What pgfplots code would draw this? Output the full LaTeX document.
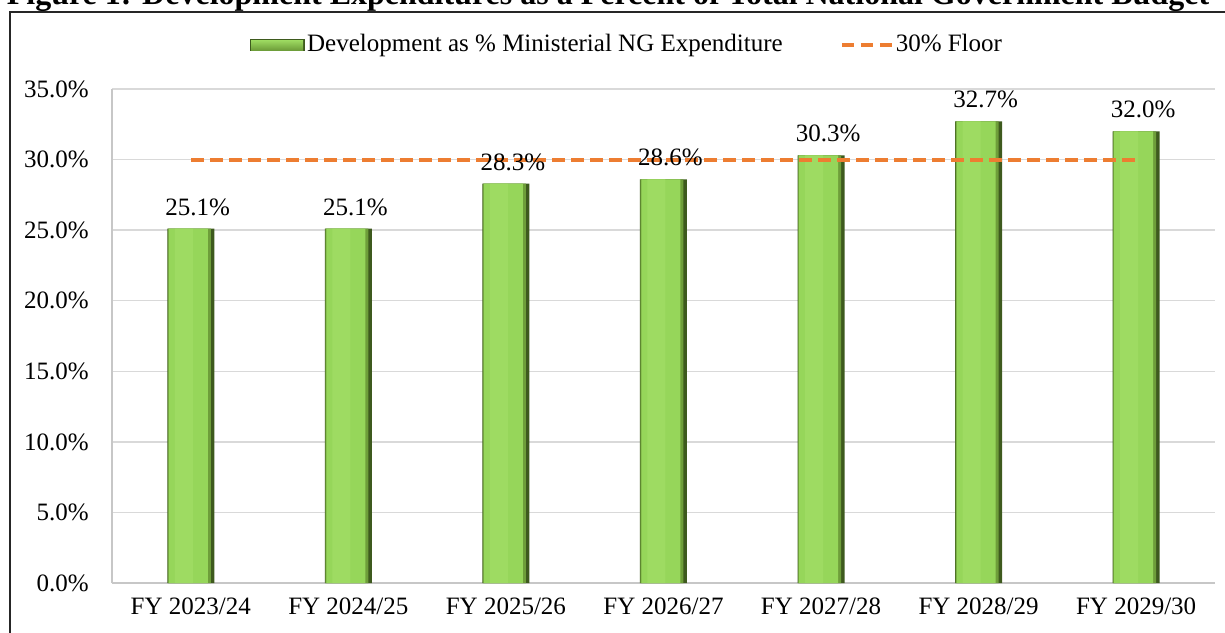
\documentclass[border=0pt]{standalone}
\usepackage{pgfplots}
\pgfplotsset{compat=1.18}
\usepackage{fontspec}
\setmainfont{Liberation Serif}

\definecolor{gEdgeR}{HTML}{3E5A1E}
\definecolor{gShade}{HTML}{6E9E3A}
\definecolor{gMain}{HTML}{96D65A}
\definecolor{gLight}{HTML}{9EDB62}
\definecolor{floor}{HTML}{ED7D31}

\newcommand{\bigtxt}{\fontsize{25}{30}\selectfont}

\pgfplotstableread{
x  y
0  25.1
1  25.1
2  28.3
3  28.6
4  30.3
5  32.7
6  32.0
}\devdata

\begin{document}
\bigtxt
\begin{tikzpicture}
\useasboundingbox (0,0) rectangle (1225pt,-632pt);
\clip (0,0) rectangle (1225pt,-632pt);
\node[anchor=base, inner sep=0pt, font=\fontsize{32}{38}\selectfont\bfseries] at (608pt,-4pt)
  {Figure 1: Development Expenditures as a Percent of Total National Government Budget};
\draw[line width=2.5pt, black!85] (10pt,-660pt) -- (10pt,-12pt) -- (1240pt,-12pt);

\begin{axis}[
    at={(112pt,-583pt)}, anchor=south west,
    scale only axis, width=1103pt, height=494pt,
    xmin=-0.5, xmax=6.5, ymin=0, ymax=35,
    xtick={0,...,6},
    xticklabels={FY 2023/24,FY 2024/25,FY 2025/26,FY 2026/27,FY 2027/28,FY 2028/29,FY 2029/30},
    ytick={0,5,...,35},
    yticklabel={\pgfmathprintnumber[fixed,fixed zerofill,precision=1,assume math mode=true]{\tick}\%},
    ymajorgrids, grid style={line width=1.5pt, color=black!15},
    axis x line*=bottom, axis y line*=left,
    axis line style={line width=1.5pt, color=black!22, -},
    major tick length=0pt,
    tick label style={font=\bigtxt, inner sep=0pt},
    yticklabel style={xshift=-23pt},
    xticklabel style={yshift=-15pt},
    legend columns=2,
    legend style={at={(0.1251,1.089)}, anchor=west, draw=none, fill=none,
      inner sep=0pt, font=\bigtxt,
      /tikz/every even column/.append style={column sep=55pt}},
    clip=false,
  ]
  % bevelled bars: dark outer edge, shaded rim, bright face
  \addplot[ybar, bar width=47pt, bar shift=0pt, draw=none, fill=gEdgeR,
    legend image code/.code={%
      \fill[gEdgeR] (0pt,-6pt) rectangle (55pt,6pt);
      \shade[top color=gLight, bottom color=gShade] (1pt,-5pt) rectangle (53pt,5pt);}]
    table[x=x, y=y] {\devdata};
  \addlegendentry{Development as \% Ministerial NG Expenditure}
  \addplot[ybar, bar width=43pt, bar shift=-1.5pt, draw=none, fill=gShade, forget plot]
    table[x=x, y=y] {\devdata};
  \addplot[ybar, bar width=39pt, bar shift=-2.5pt, draw=none, fill=gMain, forget plot]
    table[x=x, y=y] {\devdata};
  \addplot[ybar, bar width=18pt, bar shift=-7pt, draw=none, fill=gLight, forget plot,
    nodes near coords={\pgfmathprintnumber[fixed,fixed zerofill,precision=1,assume math mode=true]{\pgfplotspointmeta}\%},
    every node near coord/.append style={font=\bigtxt, anchor=south, inner sep=0pt,
      yshift=13pt, xshift=7pt, black}]
    table[x=x, y=y] {\devdata};
  \addplot[floor, line width=4pt, dash pattern=on 13pt off 6pt,
    legend image code/.code={\draw[floor, line width=4pt, dash pattern=on 12pt off 7pt] (0pt,0pt) -- (50pt,0pt);}]
    coordinates {(0,30) (6,30)};
  \addlegendentry{30\% Floor}
\end{axis}
\end{tikzpicture}
\end{document}
